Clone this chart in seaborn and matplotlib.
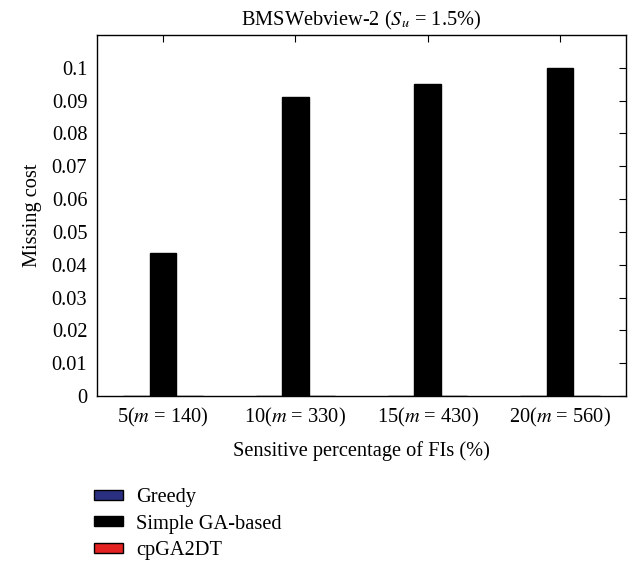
import matplotlib
matplotlib.use("Agg")
import matplotlib.pyplot as plt
import seaborn as sns
import pandas as pd

categories = ["5($m$ = 140)", "10($m$ = 330)", "15($m$ = 430)", "20($m$ = 560)"]
methods = ["Greedy", "Simple GA-based", "cpGA2DT"]
greedy = [0.0, 0.0, 0.0, 0.0]
simple_ga = [0.0435, 0.091, 0.095, 0.1]
cpga2dt = [0.0, 0.0, 0.0, 0.0]
yticks = [0, 0.01, 0.02, 0.03, 0.04, 0.05, 0.06, 0.07, 0.08, 0.09, 0.1]
colors = ["#2b2f80", "#000000", "#e52222"]

rows = []
for m, vals in zip(methods, [greedy, simple_ga, cpga2dt]):
    for c, v in zip(categories, vals):
        rows.append({"cat": c, "method": m, "value": v})
df = pd.DataFrame(rows)

sns.set_style("white")
plt.rcParams["font.family"] = ["Liberation Serif", "DejaVu Serif"]
plt.rcParams["mathtext.fontset"] = "stix"
plt.rcParams["text.color"] = "black"
plt.rcParams["axes.labelcolor"] = "black"
plt.rcParams["xtick.color"] = "black"
plt.rcParams["ytick.color"] = "black"

FS = 14.7

fig = plt.figure(figsize=(6.4, 5.65), dpi=100)
ax = fig.add_axes([97/640, 1-396/565, (626-97)/640, (396-35)/565])

sns.barplot(data=df, x="cat", y="value", hue="method", hue_order=methods,
            palette=colors, ax=ax, width=0.6, edgecolor="black", linewidth=1.0,
            saturation=1, legend=True)

ax.set_xlim(-0.5, 3.5)
ax.set_ylim(0, 0.11)
ax.set_yticks(yticks)
ax.set_yticklabels([("%g" % t) for t in yticks])
ax.tick_params(direction="in", length=5, width=0.8, labelsize=FS, top=True, right=True,
               colors="black")
ax.tick_params(axis="x", pad=7)
ax.tick_params(axis="y", pad=7)
for s in ax.spines.values():
    s.set_color("black")
    s.set_linewidth(1.0)
ax.set_xlabel("Sensitive percentage of FIs (%)", fontsize=FS, labelpad=9)
ax.set_ylabel("Missing cost", fontsize=FS, labelpad=7)
ax.set_title("BMSWebview-2 ($S_u$ = 1.5%)", fontsize=FS, pad=7)

leg = ax.legend(loc="upper left", bbox_to_anchor=(94/640, 1-488/565),
                bbox_transform=fig.transFigure, frameon=False,
                fontsize=FS, handlelength=1.4, handleheight=0.4,
                labelspacing=0.37, handletextpad=0.65, borderpad=0, borderaxespad=0)

fig.savefig("out.png", dpi=100)
